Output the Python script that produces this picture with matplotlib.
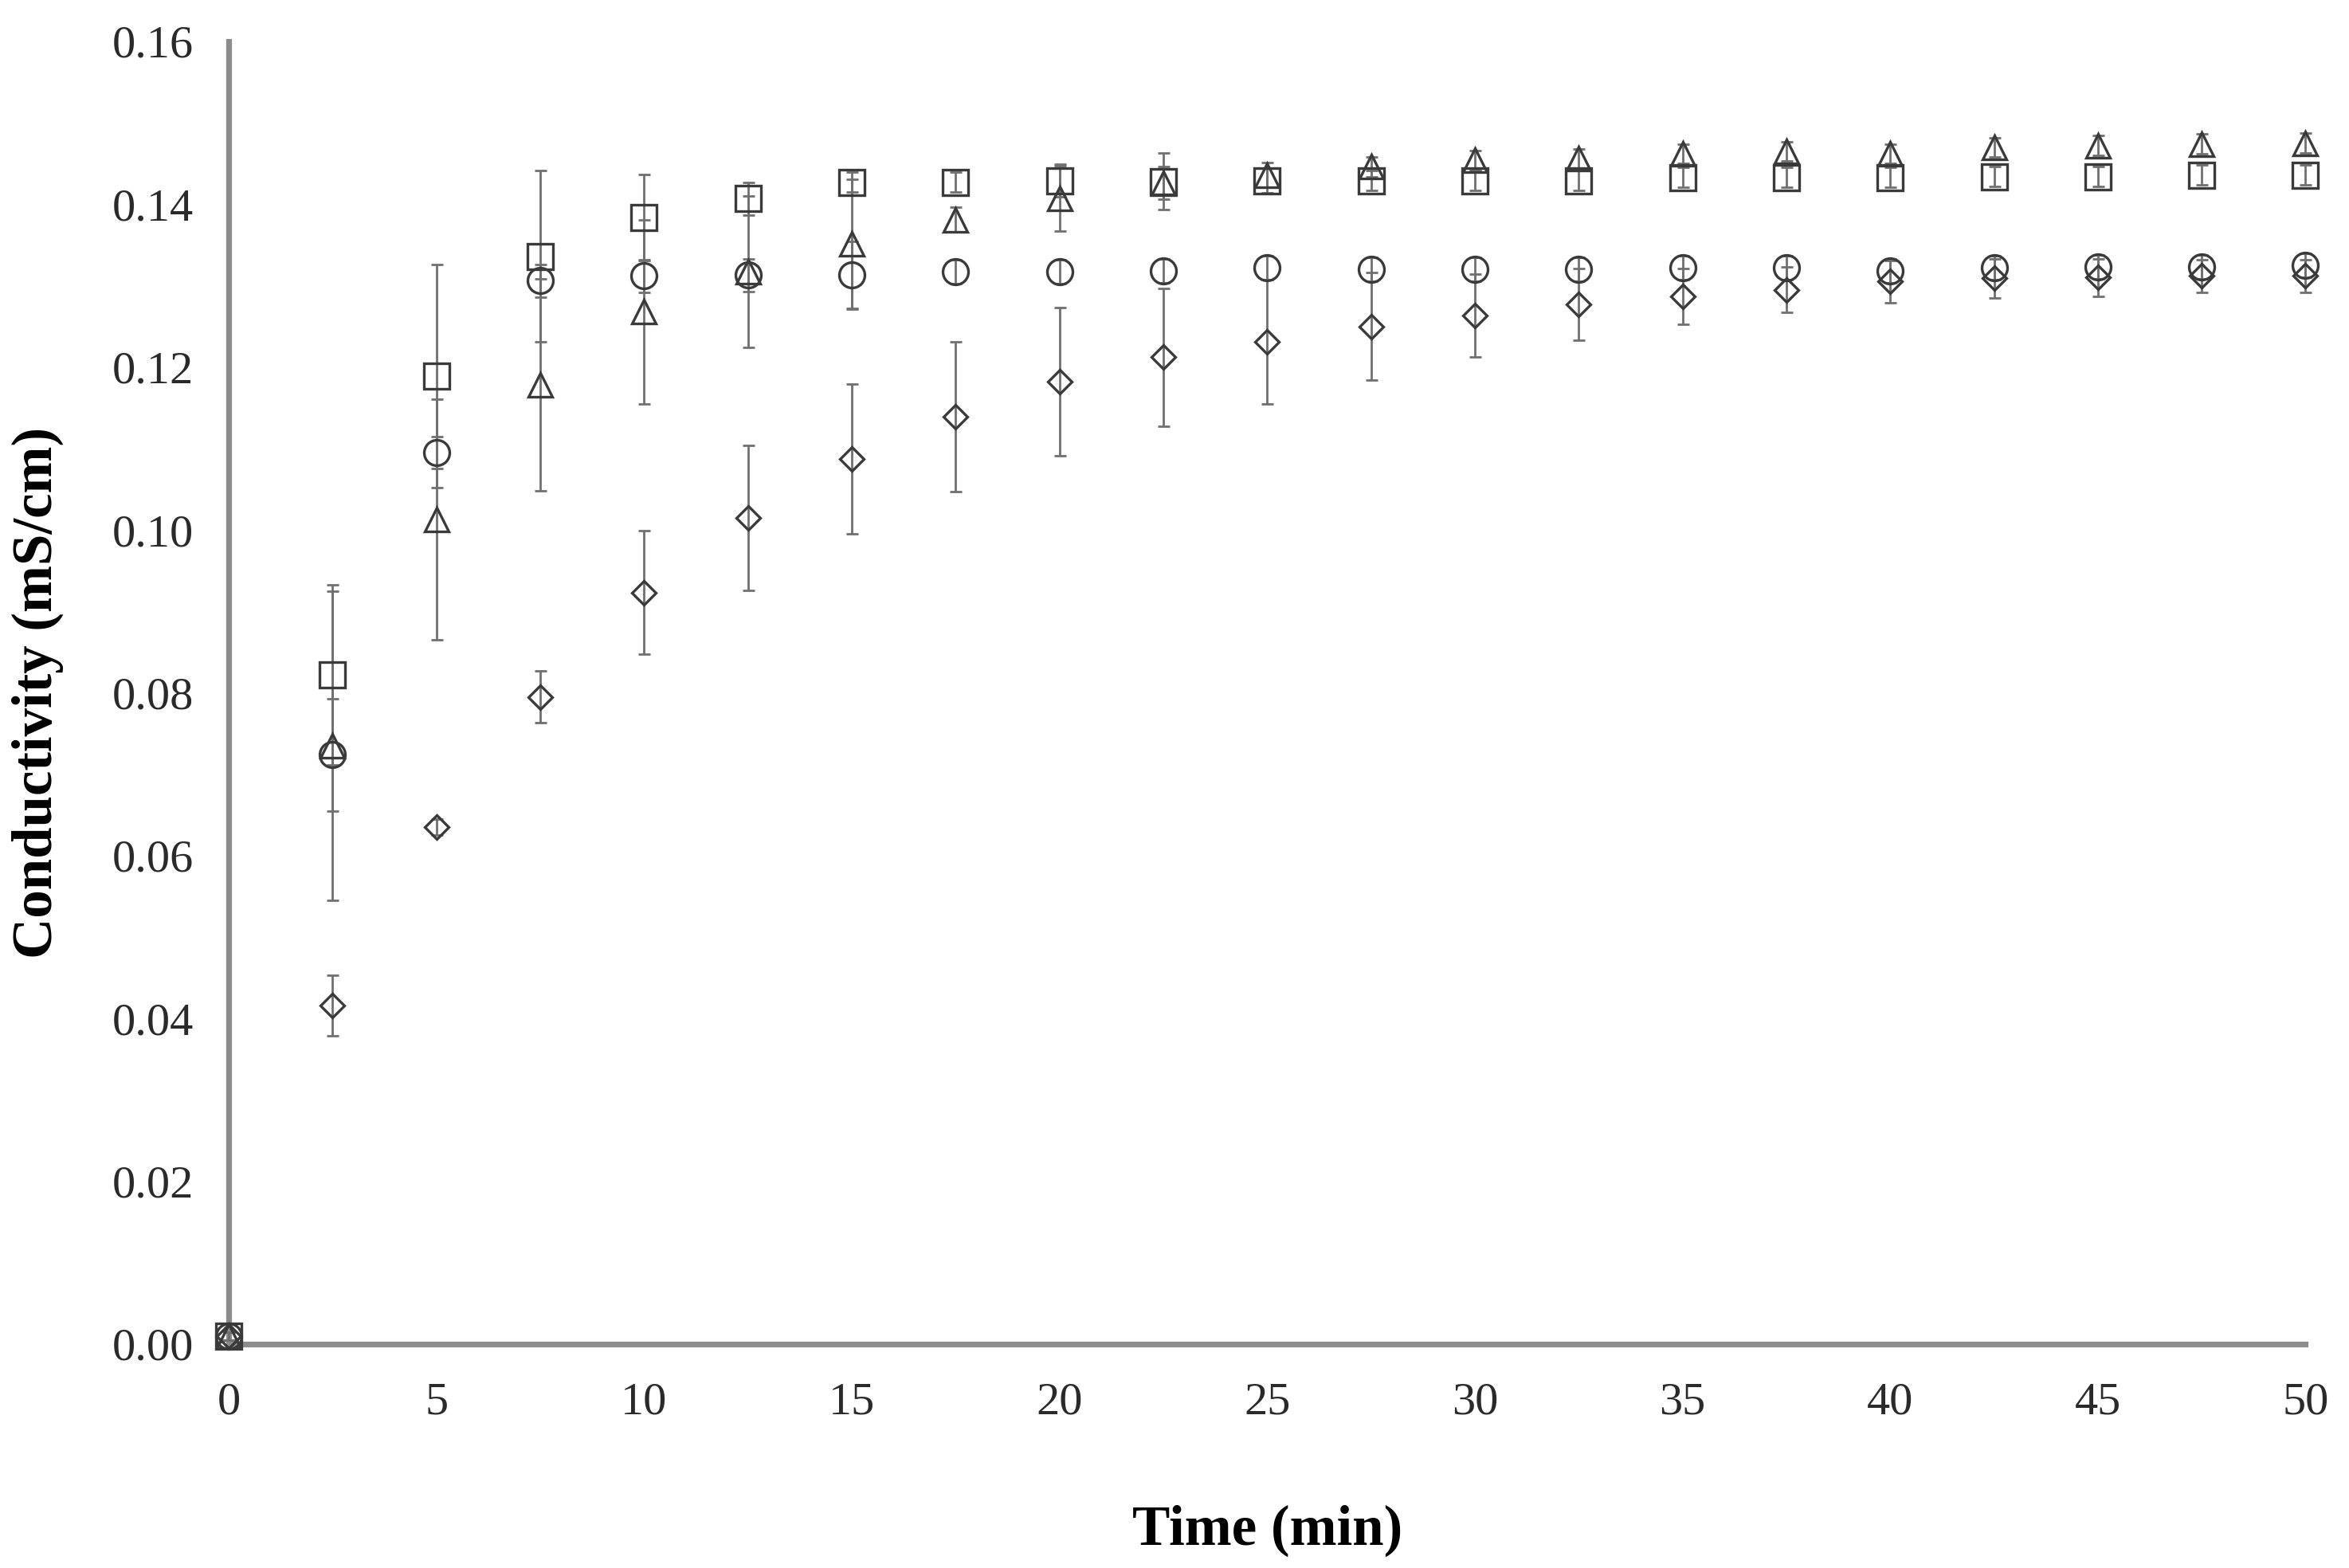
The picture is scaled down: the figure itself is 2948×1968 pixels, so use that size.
import matplotlib
matplotlib.use("Agg")
import matplotlib.pyplot as plt

# ---- data ----
time_min = [0, 2.5, 5, 7.5, 10, 12.5, 15, 17.5, 20, 22.5, 25, 27.5, 30,
            32.5, 35, 37.5, 40, 42.5, 45, 47.5, 50]

square_vals = [0.001, 0.0822, 0.1189, 0.1336, 0.1384, 0.1407, 0.1427, 0.1427,
               0.1429, 0.1428, 0.1429, 0.1429, 0.1429, 0.1429, 0.1433, 0.1433,
               0.1433, 0.1434, 0.1434, 0.1436, 0.1436]
square_err = [0.0005, 0.0111, 0.0137, 0.0105, 0.0053, 0.0020, 0.0012, 0.0012,
              0.0020, 0.0035, 0.0015, 0.0012, 0.0012, 0.0012, 0.0012, 0.0012,
              0.0012, 0.0012, 0.0012, 0.0012, 0.0012]

circle_vals = [0.001, 0.0724, 0.1095, 0.1306, 0.1312, 0.1313, 0.1313, 0.1317,
               0.1317, 0.1318, 0.1322, 0.1320, 0.1320, 0.1320, 0.1322, 0.1322,
               0.1318, 0.1322, 0.1323, 0.1323, 0.1325]
circle_err = [0.0005, 0.0069, 0.0020, 0.0020, 0.0020, 0.0020, 0.0041, 0.0015,
              0.0015, 0.0015, 0.0015, 0.0015, 0.0015, 0.0015, 0.0015, 0.0015,
              0.0015, 0.0015, 0.0015, 0.0015, 0.0015]

triangle_vals = [0.001, 0.0735, 0.1013, 0.1178, 0.1268, 0.1317, 0.1351, 0.1381,
                 0.1407, 0.1426, 0.1436, 0.1446, 0.1454, 0.1456, 0.1462, 0.1465,
                 0.1462, 0.1470, 0.1472, 0.1474, 0.1475]
triangle_err = [0.0005, 0.0190, 0.0148, 0.0130, 0.0113, 0.0093, 0.0080, 0.0015,
                0.0040, 0.0020, 0.0015, 0.0012, 0.0012, 0.0012, 0.0012, 0.0012,
                0.0012, 0.0012, 0.0012, 0.0012, 0.0012]

diamond_vals = [0.001, 0.0416, 0.0635, 0.0795, 0.0923, 0.1015, 0.1087, 0.1139,
                0.1182, 0.1212, 0.1231, 0.1250, 0.1263, 0.1277, 0.1287, 0.1295,
                0.1305, 0.1309, 0.1310, 0.1312, 0.1312]
diamond_err = [0.0005, 0.0037, 0.0010, 0.0032, 0.0076, 0.0089, 0.0092, 0.0092,
               0.0091, 0.0085, 0.0076, 0.0066, 0.0051, 0.0044, 0.0034, 0.0028,
               0.0026, 0.0024, 0.0023, 0.0020, 0.0020]

x_ticks = [0, 5, 10, 15, 20, 25, 30, 35, 40, 45, 50]
y_ticks = [0.00, 0.02, 0.04, 0.06, 0.08, 0.10, 0.12, 0.14, 0.16]

# ---- style ----
plt.rcParams['font.family'] = ['Liberation Serif', 'DejaVu Serif']

fig = plt.figure(figsize=(14.74, 9.84), dpi=200)
ax = fig.add_axes([0.0974, 0.1428, 0.9815 - 0.0974, 0.9736 - 0.1428])

series = [
    (square_vals, square_err, 's', 11.5),
    (circle_vals, circle_err, 'o', 11.5),
    (triangle_vals, triangle_err, '^', 10.5),
    (diamond_vals, diamond_err, 'D', 7.6),
]

for vals, err, mk, ms in series:
    ax.errorbar(time_min, vals, yerr=err, fmt='none', ecolor='#707070',
                elinewidth=1.0, capsize=2.7, capthick=1.0, zorder=4,
                clip_on=False)

for vals, err, mk, ms in series:
    ax.plot(time_min, vals, linestyle='none', marker=mk, markersize=ms,
            markerfacecolor='none', markeredgecolor='#3a3a3a',
            markeredgewidth=1.2, zorder=5, clip_on=False)

ax.set_xlim(0, 50)
ax.set_ylim(0, 0.16)
ax.set_xticks(x_ticks)
ax.set_xticklabels([str(t) for t in x_ticks])
ax.set_yticks(y_ticks)
ax.set_yticklabels([f"{v:.2f}" for v in y_ticks])

for s in ['top', 'right']:
    ax.spines[s].set_visible(False)
for s in ['left', 'bottom']:
    ax.spines[s].set_color('#8c8c8c')
    ax.spines[s].set_linewidth(2.6)
    ax.spines[s].set_zorder(1)

ax.tick_params(axis='both', length=0, labelsize=21, colors='#2a2a2a')
ax.tick_params(axis='x', pad=17)
ax.tick_params(axis='y', pad=16)

ax.set_xlabel('Time (min)', fontsize=25.5, fontweight='bold', color='black')
ax.set_ylabel('Conductivity (mS/cm)', fontsize=25.5, fontweight='bold', color='black')
ax.xaxis.set_label_coords(0.5, -0.1431)
ax.xaxis.label.set_verticalalignment('center')
ax.yaxis.set_label_coords(-0.092, 0.5)
ax.yaxis.label.set_verticalalignment('center')

fig.savefig('out.png', dpi=200, facecolor='white')
